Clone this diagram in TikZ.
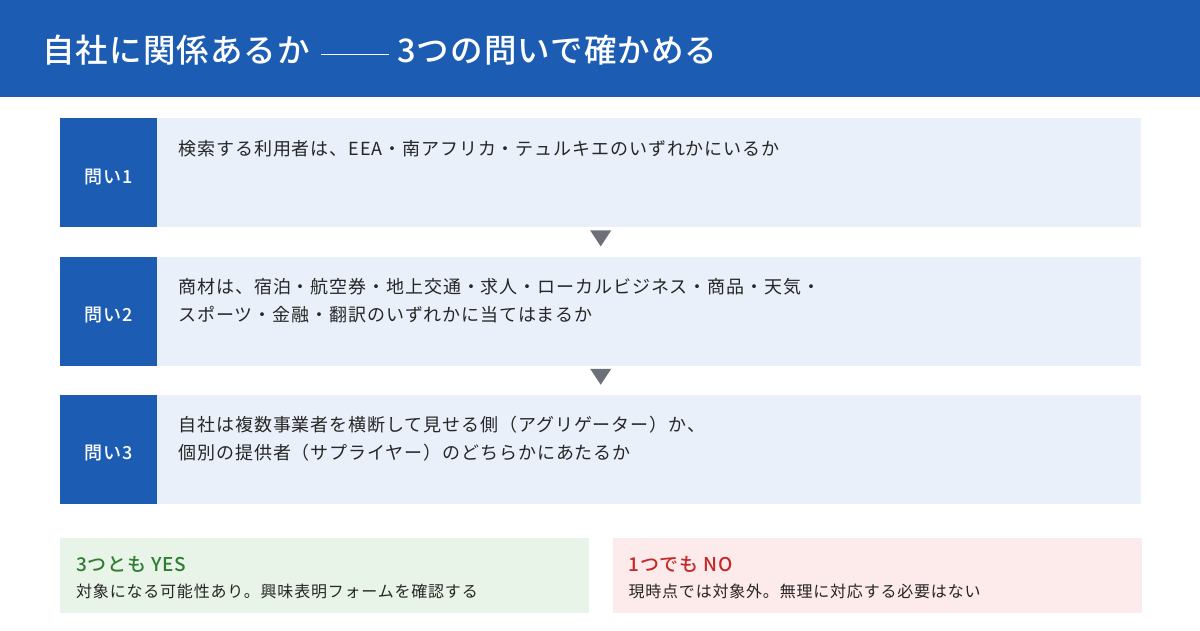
\documentclass[tikz,border=0pt]{standalone}
\usepackage{fontspec}
\setmainfont{Noto Sans CJK JP}
\newfontfamily\medfont{Noto Sans CJK JP Medium}
\usepackage{tikz}
\usetikzlibrary{positioning}
\definecolor{hdblue}{HTML}{1C5DB3}
\definecolor{qbg}{HTML}{EAF0FA}
\definecolor{txtgray}{HTML}{262626}
\definecolor{trigray}{HTML}{6B7079}
\definecolor{yesbg}{HTML}{E8F4E8}
\definecolor{yesfg}{HTML}{2E7D32}
\definecolor{nobg}{HTML}{FDEAEA}
\definecolor{nofg}{HTML}{C62828}
\newcommand{\hdfont}{\medfont\fontsize{32.5}{38}\selectfont\addfontfeature{LetterSpace=3.5}}
\newcommand{\labfont}{\medfont\fontsize{18}{28}\selectfont\addfontfeature{LetterSpace=4}}
\newcommand{\qfont}{\fontsize{18}{28}\selectfont\addfontfeature{LetterSpace=5}}
\newcommand{\resfont}{\medfont\fontsize{19}{22}\selectfont\addfontfeature{LetterSpace=4}}
\newcommand{\subfont}{\fontsize{16}{22}\selectfont\addfontfeature{LetterSpace=5}}
\tikzset{
  box/.style = {rectangle, inner sep=0pt, anchor=north west},
  qbox/.style = {box, fill=qbg, minimum width=1081pt,
    minimum height=109pt},% question row
  qlabel/.style = {box, fill=hdblue, minimum width=97pt,
    minimum height=109pt},% blue tab on the left
  labtext/.style = {inner sep=0pt, text=white, font=\labfont},
  qtext/.style = {inner sep=0pt, anchor=base west, align=left,
    text=txtgray, font=\qfont},
  resbox/.style = {box, minimum width=529pt, minimum height=75pt},
  restitle/.style = {inner sep=0pt, anchor=base west, font=\resfont},
  restext/.style = {inner sep=0pt, anchor=base west, text=txtgray,
    font=\subfont},
  tri/.style = {fill=trigray}
}
\begin{document}
\begin{tikzpicture}[x=1pt,y=-1pt]
\useasboundingbox (0,0) rectangle (1200,630);
% header
\node [box, fill=hdblue, minimum width=1200pt, minimum height=97pt] (hd) at (0,0) {};
\node [inner sep=0pt, anchor=base west, text=white, font=\hdfont]
  (title) at ([xshift=42pt,yshift=-62pt]hd.north west)
  {自社に関係あるか\hspace{11pt}\rule[7pt]{68pt}{1.4pt}\hspace{8pt}3つの問いで確かめる};
% questions
\node [qbox] (q1) at (60,118) {};
\node [qbox, below=29pt of q1.south west, anchor=north west] (q2) {};
\node [qbox, below=29pt of q2.south west, anchor=north west] (q3) {};
\foreach \i in {1,2,3}{
  \node [qlabel] (l\i) at (q\i.north west) {};
  \node [labtext] (t\i) at ([yshift=-4pt]l\i.center) {問い\i};
}
\node [qtext] (b1) at ([xshift=21pt,yshift=-37pt]l1.north east)
  {検索する利用者は、EEA・南アフリカ・テュルキエのいずれかにいるか};
\node [qtext] (b2) at ([xshift=21pt,yshift=-65pt]l2.north east)% base = last line
  {商材は、宿泊・航空券・地上交通・求人・ローカルビジネス・商品・天気・\\
   スポーツ・金融・翻訳のいずれかに当てはまるか};
\node [qtext] (b3) at ([xshift=21pt,yshift=-65pt]l3.north east)
  {自社は複数事業者を横断して見せる側（アグリゲーター）か、\\
   個別の提供者（サプライヤー）のどちらかにあたるか};
% down triangles between rows
\foreach \a/\b in {q1/q2,q2/q3}{
  \fill [tri] ([xshift=-10.5pt,yshift=-3pt]\a.south)
    -- ([xshift=10.5pt,yshift=-3pt]\a.south)
    -- ([yshift=-19pt]\a.south) -- cycle;
}
% results
\node [resbox, fill=yesbg] (yes) at (60,538) {};
\node [resbox, fill=nobg, right=23pt of yes.north east, anchor=north west] (no) {};
\node [restitle, text=yesfg] (yest) at ([xshift=16pt,yshift=-33pt]yes.north west)
  {3つとも YES};
\node [restext] (yesd) at ([xshift=16pt,yshift=-59.5pt]yes.north west)
  {対象になる可能性あり。興味表明フォームを確認する};
\node [restitle, text=nofg] (not) at ([xshift=16pt,yshift=-33pt]no.north west)
  {1つでも NO};
\node [restext] (nod) at ([xshift=16pt,yshift=-59.5pt]no.north west)
  {現時点では対象外。無理に対応する必要はない};
\end{tikzpicture}
\end{document}
